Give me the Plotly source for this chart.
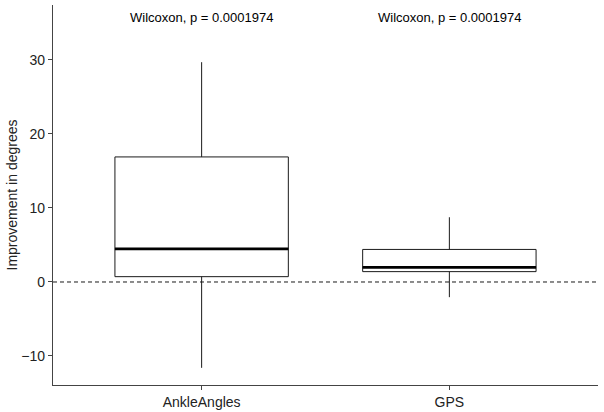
import plotly.graph_objects as go

categories = ["AnkleAngles", "GPS"]
lower_whisker = [-11.6, -2.05]
q1 = [0.72, 1.4]
median = [4.48, 1.98]
q3 = [16.9, 4.4]
upper_whisker = [29.7, 8.75]
p_labels = ["Wilcoxon, p = 0.0001974", "Wilcoxon, p = 0.0001974"]
y_ticks = [-10, 0, 10, 20, 30]

xs = list(range(len(categories)))
box_w = 0.7
font = "Liberation Sans, Arial, sans-serif"

fig = go.Figure()
fig.add_trace(go.Box(
    x=xs, q1=q1, median=median, q3=q3,
    lowerfence=lower_whisker, upperfence=upper_whisker,
    width=box_w, whiskerwidth=0,
    fillcolor="white", line=dict(color="#1a1a1a", width=1),
    boxpoints=False, showlegend=False, hoverinfo="skip",
))

# thicker median lines
mx, my = [], []
for i, m in zip(xs, median):
    mx += [i - box_w / 2, i + box_w / 2, None]
    my += [m, m, None]
fig.add_trace(go.Scatter(x=mx, y=my, mode="lines",
                         line=dict(color="black", width=2.6),
                         showlegend=False, hoverinfo="skip"))

# dashed reference line at 0
fig.add_shape(type="line", xref="paper", x0=0, x1=1, yref="y", y0=0, y1=0,
              line=dict(color="#1a1a1a", width=1, dash="4px,3px"), layer="below")

for i, t in zip(xs, p_labels):
    fig.add_annotation(x=i, y=35.7, text=t, showarrow=False,
                       font=dict(family=font, size=13, color="black"))

fig.update_layout(
    width=604, height=412,
    margin=dict(l=53, r=6, t=5, b=27, autoexpand=False),
    paper_bgcolor="white", plot_bgcolor="white",
    font=dict(family=font, size=14, color="#222"),
    xaxis=dict(
        range=[-0.6, 1.6], tickmode="array", tickvals=xs, ticktext=categories,
        showline=True, linecolor="#444", linewidth=1.2, ticks="outside",
        ticklen=4, tickcolor="#444", showgrid=False, zeroline=False,
        tickfont=dict(size=14, color="#222"), automargin=False,
    ),
    yaxis=dict(
        range=[-13.92, 37.43], tickmode="array", tickvals=y_ticks,
        showline=True, linecolor="#444", linewidth=1.2, ticks="outside",
        ticklen=4, tickcolor="#444", showgrid=False, zeroline=False,
        tickfont=dict(size=14, color="#222"), automargin=False,
        title=dict(text="Improvement in degrees", font=dict(size=14, color="#222"), standoff=0),
    ),
)

fig.write_html("out.html", config={"displayModeBar": False},
               post_script="document.body.style.margin='0';")
